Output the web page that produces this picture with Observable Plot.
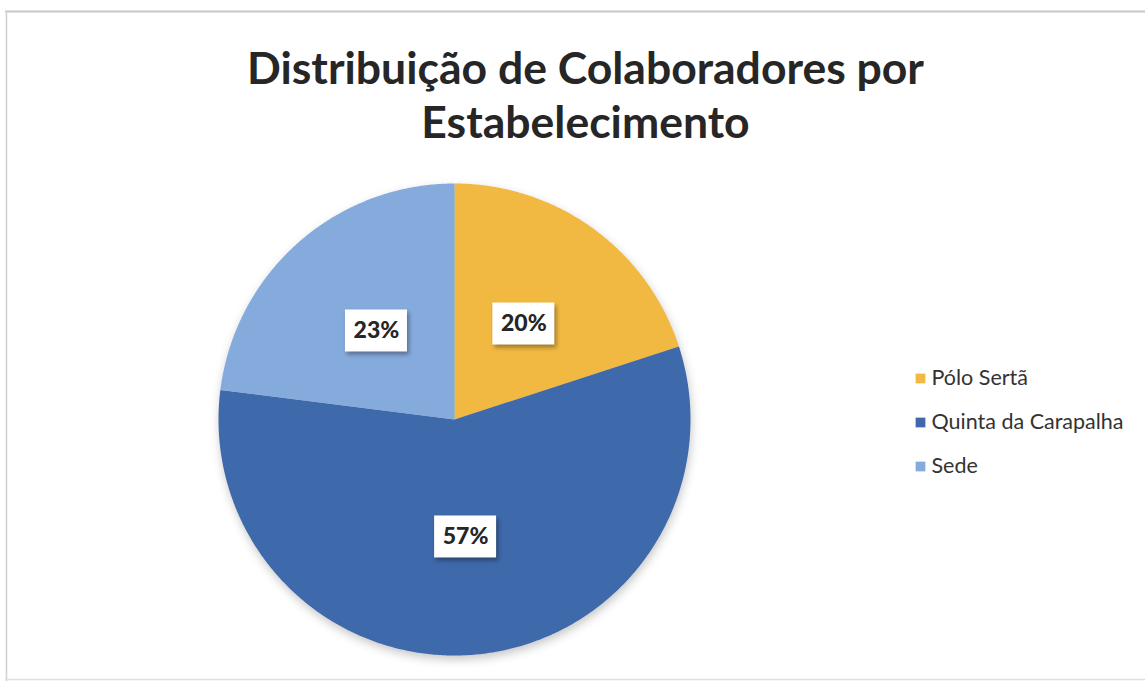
<!DOCTYPE html>
<html><head><meta charset="utf-8">
<script src="https://cdn.jsdelivr.net/npm/d3@7"></script>
<script src="https://cdn.jsdelivr.net/npm/@observablehq/plot@0.6"></script>
<style>
body{margin:0;background:#fff;}
.pie{filter: drop-shadow(1px 4px 5px rgba(0,0,0,0.22));}
.lbl{filter: drop-shadow(2px 3px 2px rgba(0,0,0,0.35));}
</style>
</head><body><div id="chart"></div>
<script>
const categories = ["Pólo Sertã", "Quinta da Carapalha", "Sede"];
const shares = [20, 57, 23];
const labels = ["20%", "57%", "23%"];
const colors = ["#F2B942", "#3E69AA", "#85AADC"];
const titleLines = ["Distribuição de Colaboradores por", "Estabelecimento"];

const W = 1145, H = 681;
const cx = 454, cy = 419, R = 236;
const total = d3.sum(shares);

// slice polygons
const pts = [];
const lab = [];
let acc = 0;
categories.forEach((c, i) => {
  const a0 = acc / total * 2 * Math.PI;
  acc += shares[i];
  const a1 = acc / total * 2 * Math.PI;
  pts.push({cat: c, x: cx, y: cy});
  const n = Math.max(2, Math.ceil((a1 - a0) / (Math.PI / 360)));
  for (let k = 0; k <= n; k++) {
    const a = a0 + (a1 - a0) * k / n;
    pts.push({cat: c, x: cx + R * Math.sin(a), y: cy - R * Math.cos(a)});
  }
  pts.push({cat: c, x: cx, y: cy});
  const am = (a0 + a1) / 2;
  lab.push({cat: c, text: labels[i], x: cx + 0.5 * R * Math.sin(am), y: cy - 0.5 * R * Math.cos(am)});
});

const legend = categories.map((c, i) => ({cat: c, x: 920, y: 378 + i * 44}));

const chart = Plot.plot({
  width: W, height: H,
  margin: 0,
  x: {domain: [0, W], range: [0, W], axis: null},
  y: {domain: [0, H], range: [0, H], axis: null},
  color: {domain: categories, range: colors},
  style: {background: "#fff"},
  marks: [
    Plot.ruleY([11], {x1: 5, x2: 1145, stroke: "#c8c8c8", strokeWidth: 2}),
    Plot.ruleX([6], {y1: 11, y2: 681, stroke: "#d0d0d0", strokeWidth: 1.5}),
    Plot.ruleY([679], {x1: 5, x2: 1145, stroke: "#e0e0e0", strokeWidth: 1.5}),
    Plot.line(pts, {x: "x", y: "y", z: "cat", fill: "cat", stroke: "none", className: "pie", curve: "linear"}),
    Plot.rect(lab, {x1: d => d.x - 31, x2: d => d.x + 31, y1: d => d.y - 21, y2: d => d.y + 21, fill: "white", className: "lbl"}),
    Plot.text(lab, {x: "x", y: "y", text: "text", fontSize: 23, fontWeight: "900", fill: "#262626", fontFamily: "Lato"}),
    Plot.text(titleLines, {x: 585, y: (d, i) => 69 + i * 54, text: d => d, fontSize: 44.5, fontWeight: "bold", fill: "#262626", fontFamily: "Lato"}),
    Plot.dot(legend, {x: "x", y: "y", symbol: "square", r: 5.5, fill: "cat", stroke: "none"}),
    Plot.text(legend, {x: d => d.x + 11, y: "y", text: "cat", textAnchor: "start", fontSize: 21.5, fill: "#333", fontFamily: "Lato"})
  ]
});
document.getElementById("chart").append(chart);
</script>
</body></html>
